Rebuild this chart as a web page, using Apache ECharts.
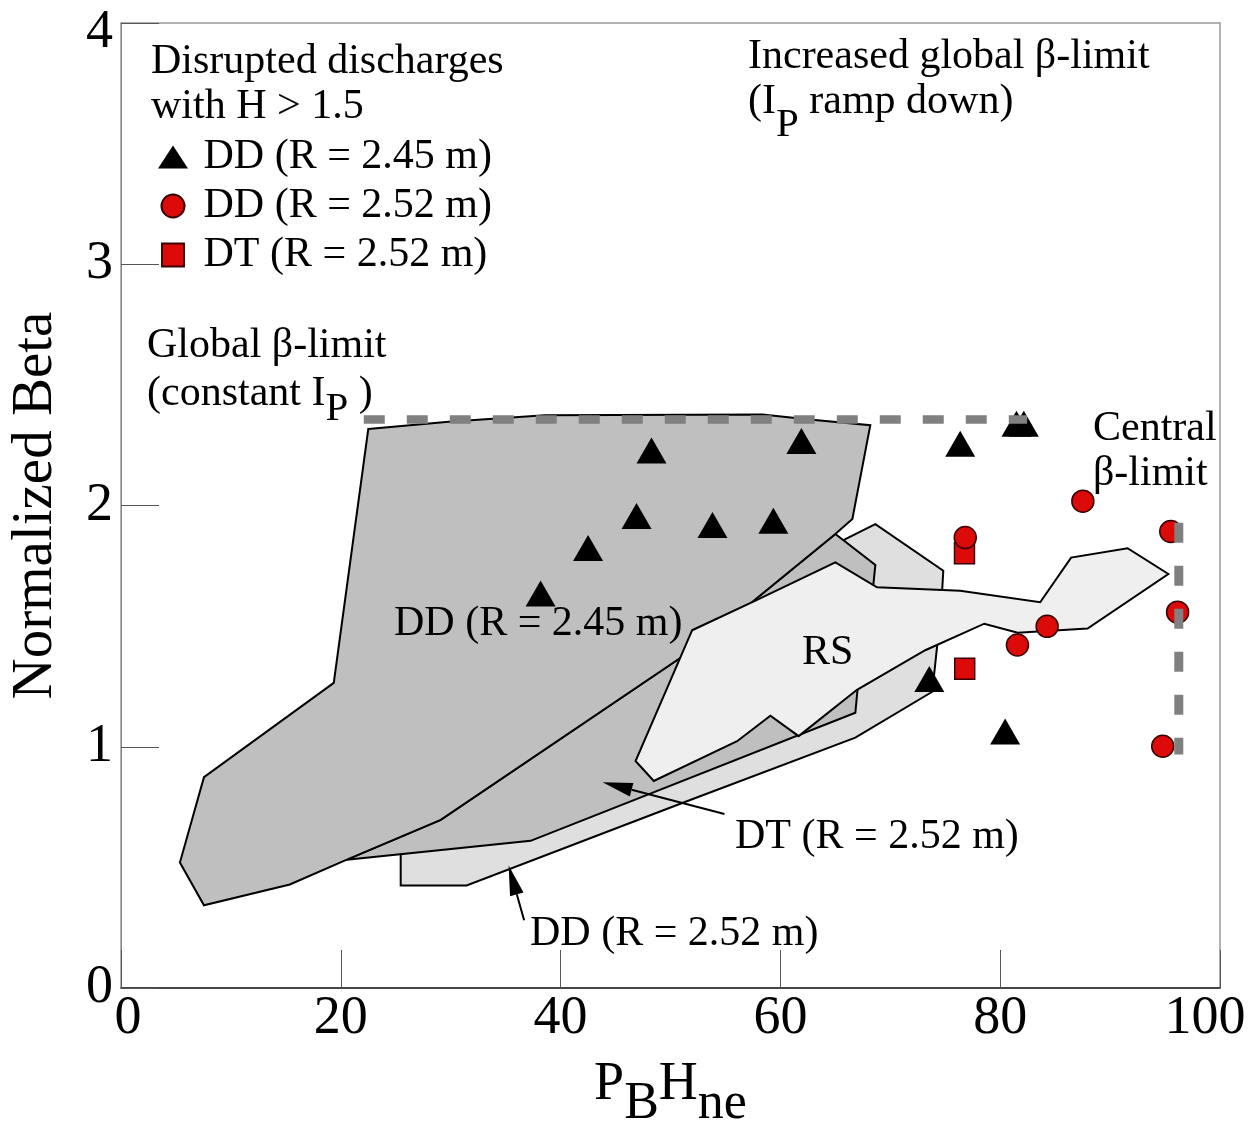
<!DOCTYPE html>
<html><head><meta charset="utf-8">
<script src="https://cdn.jsdelivr.net/npm/echarts@6/dist/echarts.min.js"></script>
<style>html,body{margin:0;padding:0;background:#fff}#c{width:1251px;height:1135px}</style>
</head><body><div id="c"></div>
<script>
// ---- data ----
const xTickLabels = [0, 20, 40, 60, 80, 100];
const yTickLabels = [0, 1, 2, 3, 4];

// disrupted discharges (P_B H_ne, normalized beta)
const ddR245 = [[48.27,2.228],[61.91,2.267],[46.91,1.956],[53.82,1.919],[59.36,1.937],[42.5,1.824],[38.18,1.635],[76.36,2.256],[81.48,2.339],[82.15,2.339],[73.55,1.281],[80.45,1.063]];
const ddR252 = [[87.52,2.018],[76.82,1.867],[95.52,1.892],[96.14,1.558],[81.57,1.422],[84.27,1.499],[94.79,1.002]];
const dtR252 = [[76.75,1.802],[76.77,1.323]];

// operating regions (polygon outlines)
const regionDD245 = [[22.5,2.317],[29.82,2.347],[38.55,2.374],[58.36,2.377],[62.64,2.356],[68.18,2.333],[66.55,1.944],[65.0,1.882],[52.73,1.425],[29.09,0.697],[20.55,0.532],[15.36,0.429],[7.55,0.343],[5.36,0.520],[7.55,0.874],[19.36,1.265]];
const regionDT252 = [[20.55,0.532],[37.27,0.610],[66.82,1.141],[67.0,1.228],[68.45,1.668],[68.64,1.754],[65.0,1.882],[52.73,1.425],[29.09,0.697]];
const regionDD252 = [[65.91,1.861],[68.64,1.923],[74.82,1.730],[74.73,1.656],[74.27,1.421],[73.82,1.228],[66.82,1.038],[51.55,0.775],[31.45,0.425],[25.45,0.425],[25.45,0.553],[43.64,0.845]];
const regionRS = [[51.97,1.483],[57.73,1.606],[65.0,1.764],[68.79,1.661],[76.36,1.647],[83.64,1.599],[86.45,1.784],[91.59,1.823],[95.3,1.716],[87.95,1.490],[81.59,1.473],[78.55,1.510],[73.18,1.400],[66.97,1.236],[61.66,1.044],[59.09,1.129],[56.06,1.023],[48.48,0.858],[46.82,0.941]];

// beta limits
const globalLimit = [[22.09,2.356],[82.45,2.356]];
const centralLimit = [[96.25,1.928],[96.25,0.968]];

// annotation arrows: [x_start, y_start, x_tip, y_tip]
const arrows = [[54.91,0.721,43.82,0.853],[36.68,0.281,35.27,0.508]];

// ---- chart ----
const FONT = 'Liberation Serif';
const chart = echarts.init(document.getElementById('c'), null, {renderer:'canvas'});

function polySeries(name, pts, fill){
  return {
    type:'custom', name, data: pts, silent:true, animation:false,
    renderItem: (params, api) => {
      if (params.dataIndex !== 0) return null;
      return {type:'polygon', shape:{points: pts.map(p => api.coord(p))},
        style:{fill, stroke:'#000', lineWidth:2, lineJoin:'miter'}};
    }
  };
}

function txt(x, baseline, text, size){
  size = size || 42;
  return {type:'text', x, y: baseline - size*0.338, z:100,
    style:{text, fill:'#000', fontSize:size, fontFamily:FONT, verticalAlign:'middle', align:'left'}};
}
function richTxt(x, baseline, text, subDrop){
  const size = 42;
  return {type:'text', x, y: baseline - (size/2 + size*0.338), z:100,
    style:{text, fill:'#000', fontSize:size, fontFamily:FONT, verticalAlign:'top', align:'left',
      rich:{
        n:{fontSize:size, fontFamily:FONT, fill:'#000', verticalAlign:'top'},
        s:{fontSize:41, fontFamily:FONT, fill:'#000', verticalAlign:'top', padding:[subDrop,0,0,0]}
      }}};
}

const option = {
  animation:false,
  backgroundColor:'#fff',
  grid:{left:120, right:31, top:23, bottom:140, show:true, borderColor:'#999', borderWidth:1.5},
  xAxis:{
    type:'value', min:0, max:100, interval:20,
    name:'{a|P}{b|B}{a|H}{b|ne}', nameLocation:'middle', nameGap:70,
    nameTextStyle:{rich:{
      a:{fontSize:54, fontFamily:FONT, color:'#000', verticalAlign:'top'},
      b:{fontSize:52, fontFamily:FONT, color:'#000', verticalAlign:'top', padding:[20,0,0,0]}
    }},
    axisLine:{show:true, lineStyle:{color:'#222', width:1.5}},
    axisTick:{show:true, inside:true, length:38, lineStyle:{color:'#555', width:1}},
    splitLine:{show:false},
    axisLabel:{margin:4, fontSize:54, fontFamily:FONT, color:'#000',
      formatter: v => v === xTickLabels[0] ? '{l|'+v+'}' : (v === xTickLabels[xTickLabels.length-1] ? '{r|'+v+'}' : '{n|'+v+'}'),
      rich:{
        n:{fontSize:54, fontFamily:FONT, color:'#000'},
        l:{fontSize:54, fontFamily:FONT, color:'#000', padding:[0,0,0,14]},
        r:{fontSize:54, fontFamily:FONT, color:'#000', padding:[0,30,0,0]}
      }}
  },
  yAxis:{
    type:'value', min:0, max:4, interval:1,
    name:'Normalized Beta', nameLocation:'middle', nameGap:56,
    nameTextStyle:{fontSize:57, fontFamily:FONT, color:'#000'},
    axisLine:{show:true, lineStyle:{color:'#888', width:1}},
    axisTick:{show:true, inside:true, length:38, lineStyle:{color:'#555', width:1}},
    splitLine:{show:false},
    axisLabel:{margin:8, fontSize:54, fontFamily:FONT, color:'#000',
      formatter: v => v === yTickLabels[yTickLabels.length-1] ? '{t|'+v+'}' : '{n|'+v+'}',
      rich:{
        n:{fontSize:54, fontFamily:FONT, color:'#000'},
        t:{fontSize:54, fontFamily:FONT, color:'#000', padding:[20,0,0,0]}
      }}
  },
  legend:{
    orient:'vertical', left:158, top:136, padding:0, itemGap:7, itemWidth:30, itemHeight:23,
    selectedMode:false,
    textStyle:{fontSize:42, fontFamily:FONT, color:'#000'},
    formatter: n => ' ' + n,
    data:[{name:'DD (R = 2.45 m)'},{name:'DD (R = 2.52 m)'},{name:'DT (R = 2.52 m)', icon:'path://M0,0h20v21h-20z'}]
  },
  series:[
    polySeries('DD (R = 2.52 m) region', regionDD252, '#dfdfdf'),
    polySeries('DT (R = 2.52 m) region', regionDT252, '#bfbfbf'),
    polySeries('DD (R = 2.45 m) region', regionDD245, '#bfbfbf'),
    {type:'line', name:'Global beta-limit', data:globalLimit, symbol:'none', silent:true,
      lineStyle:{color:'#808080', width:8.5, type:[21,22], cap:'butt', opacity:1}},
    {type:'line', name:'Central beta-limit', data:centralLimit, symbol:'none', silent:true,
      lineStyle:{color:'#808080', width:9, type:[20,23], cap:'butt', opacity:1}},
    {type:'scatter', name:'DD (R = 2.45 m)', data:ddR245, symbol:'triangle', symbolSize:[30,26],
      itemStyle:{color:'#000', opacity:1}, silent:true},
    {type:'scatter', name:'DT (R = 2.52 m)', data:dtR252, symbol:'rect', symbolSize:[20,21],
      itemStyle:{color:'#dd0a0a', borderColor:'#3a0000', borderWidth:1.5, opacity:1}, silent:true},
    {type:'scatter', name:'DD (R = 2.52 m)', data:ddR252, symbol:'circle', symbolSize:22,
      itemStyle:{color:'#dd0a0a', borderColor:'#3a0000', borderWidth:1.5, opacity:1}, silent:true},
    polySeries('RS region', regionRS, '#efefef'),
    {type:'custom', name:'arrows', data:arrows, silent:true, encode:{x:[0,2], y:[1,3]},
      renderItem:(params, api) => {
        const p0 = api.coord([api.value(0), api.value(1)]);
        const p1 = api.coord([api.value(2), api.value(3)]);
        const dx = p1[0]-p0[0], dy = p1[1]-p0[1], L = Math.hypot(dx, dy);
        const ux = dx/L, uy = dy/L, hl = 30, hw = 7;
        const bx = p1[0]-ux*hl, by = p1[1]-uy*hl;
        return {type:'group', children:[
          {type:'line', shape:{x1:p0[0], y1:p0[1], x2:bx, y2:by}, style:{stroke:'#000', lineWidth:2}},
          {type:'polygon', shape:{points:[[p1[0],p1[1]],[bx-uy*hw, by+ux*hw],[bx+uy*hw, by-ux*hw]]}, style:{fill:'#000'}}
        ]};
      }}
  ],
  graphic:[
    txt(151, 76, 'Disrupted discharges'),
    txt(151, 121, 'with H > 1.5'),
    txt(748, 71, 'Increased global \u03b2-limit'),
    richTxt(748, 116, '{n|(I}{s|P}{n| ramp down)}', 24),
    txt(147, 360, 'Global \u03b2-limit'),
    richTxt(147, 408, '{n|(constant I}{s|P}{n| )}', 16),
    txt(1093, 443, 'Central'),
    txt(1093, 488, '\u03b2-limit'),
    txt(394, 638, 'DD (R = 2.45 m)'),
    txt(802, 667, 'RS'),
    txt(735, 851, 'DT (R = 2.52 m)'),
    txt(530, 948, 'DD (R = 2.52 m)')
  ]
};
chart.setOption(option);
</script>
</body></html>
